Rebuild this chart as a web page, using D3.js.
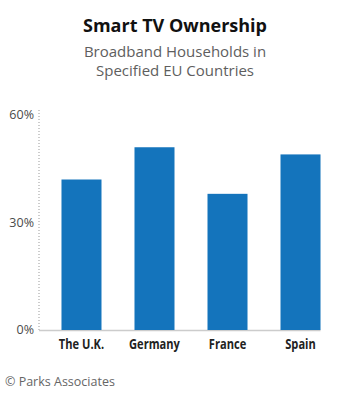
<!DOCTYPE html>
<html>
<head>
<meta charset="utf-8">
<script src="https://cdn.jsdelivr.net/npm/d3@7"></script>
<style>
  body { margin: 0; background: #fff; }
  svg { display: block; font-family: "Open Sans", "Noto Sans", sans-serif; }
</style>
</head>
<body>
<svg class="chart" width="351" height="400"></svg>
<script>
var countries = ["The U.K.", "Germany", "France", "Spain"];
var ownership = [42, 51, 38, 49];
var tickValues = [0, 30, 60];

var svg = d3.select(".chart");

var x = d3.scaleBand().domain(countries).range([39, 343]).paddingInner(0.452).paddingOuter(0.308);
var y = d3.scaleLinear().domain([0, 60]).range([330, 115]);

// titles
svg.append("text").attr("x", 175).attr("y", 32).attr("text-anchor", "middle")
  .style("font-size", "18px").style("font-weight", "bold").attr("fill", "#111")
  .text("Smart TV Ownership");
svg.append("text").attr("x", 175).attr("y", 57).attr("text-anchor", "middle")
  .style("font-size", "15px").attr("fill", "#5e5e5e")
  .text("Broadband Households in");
svg.append("text").attr("x", 175).attr("y", 76).attr("text-anchor", "middle")
  .style("font-size", "15px").attr("fill", "#5e5e5e")
  .text("Specified EU Countries");

// dotted y axis
svg.append("line").attr("x1", 39).attr("x2", 39).attr("y1", 110).attr("y2", y(0))
  .attr("stroke", "#999").attr("stroke-width", 1).attr("stroke-dasharray", "1,2");

// baseline
svg.append("line").attr("x1", 39).attr("x2", x("Spain") + x.bandwidth()).attr("y1", y(0) + 0.5).attr("y2", y(0) + 0.5)
  .attr("stroke", "#ccc").attr("stroke-width", 1.5);

// y tick labels
svg.selectAll(".ytick").data(tickValues).enter().append("text")
  .attr("x", 34).attr("y", function(d) { return y(d); }).attr("dy", "0.35em")
  .attr("text-anchor", "end").style("font-size", "12.5px").attr("fill", "#4a4a4a")
  .text(function(d) { return d + "%"; });

// bars
svg.selectAll(".bar").data(ownership).enter().append("rect")
  .attr("x", function(d, i) { return x(countries[i]); })
  .attr("y", function(d) { return y(d); })
  .attr("width", x.bandwidth())
  .attr("height", function(d) { return y(0) - y(d); })
  .attr("fill", "#1474bc");

// category labels (squeezed to look condensed)
svg.selectAll(".xlab").data(countries).enter().append("text")
  .attr("transform", function(d) {
    return "translate(" + (x(d) + x.bandwidth() / 2) + "," + (y(0) + 19) + ") scale(0.74,1)";
  })
  .attr("text-anchor", "middle")
  .style("font-size", "15px").style("font-weight", "bold").attr("fill", "#222")
  .text(function(d) { return d; });

// source
svg.append("text").attr("x", 5).attr("y", 386)
  .style("font-size", "12.5px").attr("fill", "#666")
  .text("© Parks Associates");
</script>
</body>
</html>
